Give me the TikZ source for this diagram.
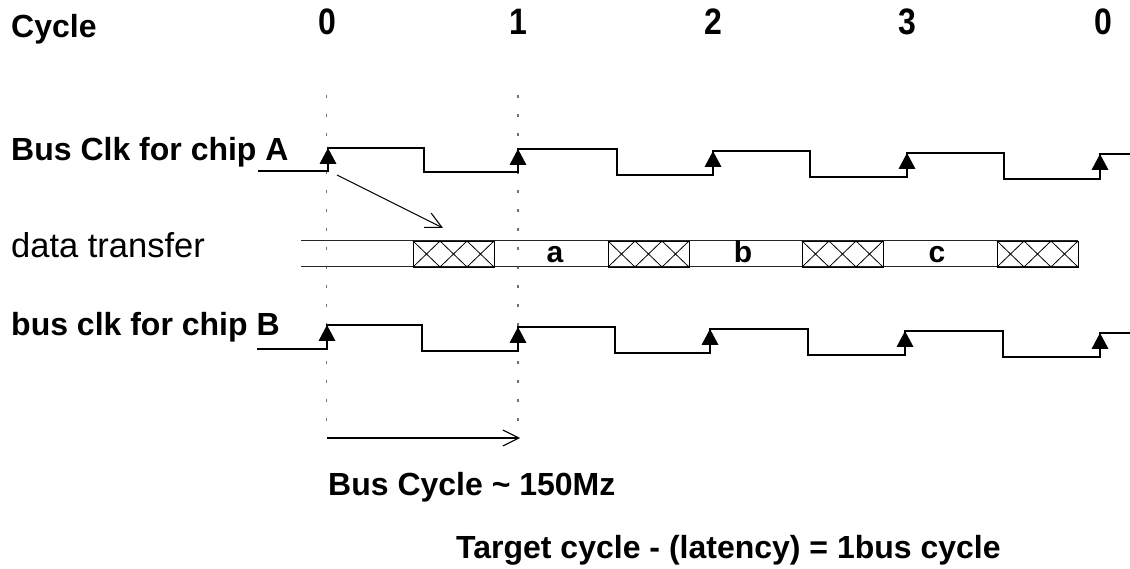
\documentclass[tikz,border=0pt]{standalone}
\usepackage{graphicx}
\usepackage{fontspec}
\setmainfont{Liberation Sans}
\usetikzlibrary{arrows.meta}
\tikzset{
  lbl/.style={inner sep=0pt, font=\fontsize{32}{32}\selectfont\bfseries},
  lblreg/.style={inner sep=0pt, font=\fontsize{34.5}{34.5}\selectfont},
  dlbl/.style={inner sep=0pt, font=\fontsize{30}{30}\selectfont\bfseries},
  clk/.style={line width=1.3pt, line join=miter},
  guide/.style={line width=1.1pt, black!55, dash pattern=on 3pt off 16pt},
  bus/.style={line width=1pt, black!85},
  hatch/.style={line width=0.8pt, black},
  arr/.style={line width=1.1pt, -{Straight Barb[length=16pt,width=16pt,line width=1.1pt]}},
}
\newcommand{\risemark}[2]{\fill (#1-8.5,#2+16) -- (#1,#2) -- (#1+8.5,#2+16) -- cycle;}
\newcommand{\xbox}[1]{%
  \draw[hatch] (#1,241) rectangle (#1+81,267);
  \foreach \k in {0,1,2}{%
    \draw[hatch] (#1+\k*27,241) -- (#1+\k*27+27,267);
    \draw[hatch] (#1+\k*27,267) -- (#1+\k*27+27,241);
  }}
\begin{document}
\begin{tikzpicture}[x=1pt,y=-1pt]
\useasboundingbox (0,0) rectangle (1130,569);
% header
\node[lbl, anchor=base west] (cyc) at (11,38) {Cycle};
\node[lbl, anchor=base] (c0) at (327,35) {\scalebox{1}[1.15]{0}};
\node[lbl, anchor=base] (c1) at (518,35) {\scalebox{1}[1.15]{1}};
\node[lbl, anchor=base] (c2) at (713,35) {\scalebox{1}[1.15]{2}};
\node[lbl, anchor=base] (c3) at (907,35) {\scalebox{1}[1.15]{3}};
\node[lbl, anchor=base] (c4) at (1103,35) {\scalebox{1}[1.15]{0}};
% row labels
\node[lbl, anchor=base west] (la) at (11,161) {Bus Clk for chip A};
\node[lblreg, anchor=base west] (ld) at (11,258) {data transfer};
\node[lbl, anchor=base west] (lb) at (11,336) {bus clk for chip B};
% guides
\draw[guide] (326.5,95) -- (326.5,432);
\draw[guide] (518,95) -- (518,432);
% clock A
\draw[clk] (258,171) -- (328,171) -- (328,148) -- (424,148) -- (424,172) -- (518,172) -- (518,149)
  -- (617,149) -- (617,175) -- (713,175) -- (713,151) -- (810,151) -- (810,177) -- (907,177)
  -- (907,153) -- (1004,153) -- (1004,179) -- (1100,179) -- (1100,154) -- (1130,154);
\risemark{328}{148}\risemark{518}{149}\risemark{713}{151}\risemark{907}{153}\risemark{1100}{154}
% clock B
\draw[clk] (257,349) -- (327,349) -- (327,325) -- (422,325) -- (422,351) -- (518,351) -- (518,327)
  -- (615,327) -- (615,353) -- (710,353) -- (710,329) -- (808,329) -- (808,355) -- (905,355)
  -- (905,331) -- (1003,331) -- (1003,357) -- (1100,357) -- (1100,333) -- (1130,333);
\risemark{327}{325}\risemark{518}{327}\risemark{710}{329}\risemark{905}{331}\risemark{1100}{333}
% data bus
\draw[bus] (301,241) -- (1078,241);
\draw[bus] (301,267) -- (1078,267);
\xbox{413}\xbox{608}\xbox{802}\xbox{997}
\node[dlbl, anchor=base] (da) at (555,263) {a};
\node[dlbl, anchor=base] (db) at (743,263) {b};
\node[dlbl, anchor=base] (dc) at (937,263) {c};
% arrows
\coordinate (s1) at (337,175);
\coordinate (e1) at (443,228);
\draw[arr] (s1) -- (e1);
\coordinate (s2) at (327,438);
\coordinate (e2) at (520,438);
\draw[arr] (s2) -- (e2);
% bottom texts
\node[lbl, anchor=base west] (bc) at (328,495) {Bus Cycle \char`~{} 150Mz};
\node[lbl, anchor=base west] (tc) at (456,558) {Target cycle - (latency) = 1bus cycle};
\end{tikzpicture}
\end{document}
